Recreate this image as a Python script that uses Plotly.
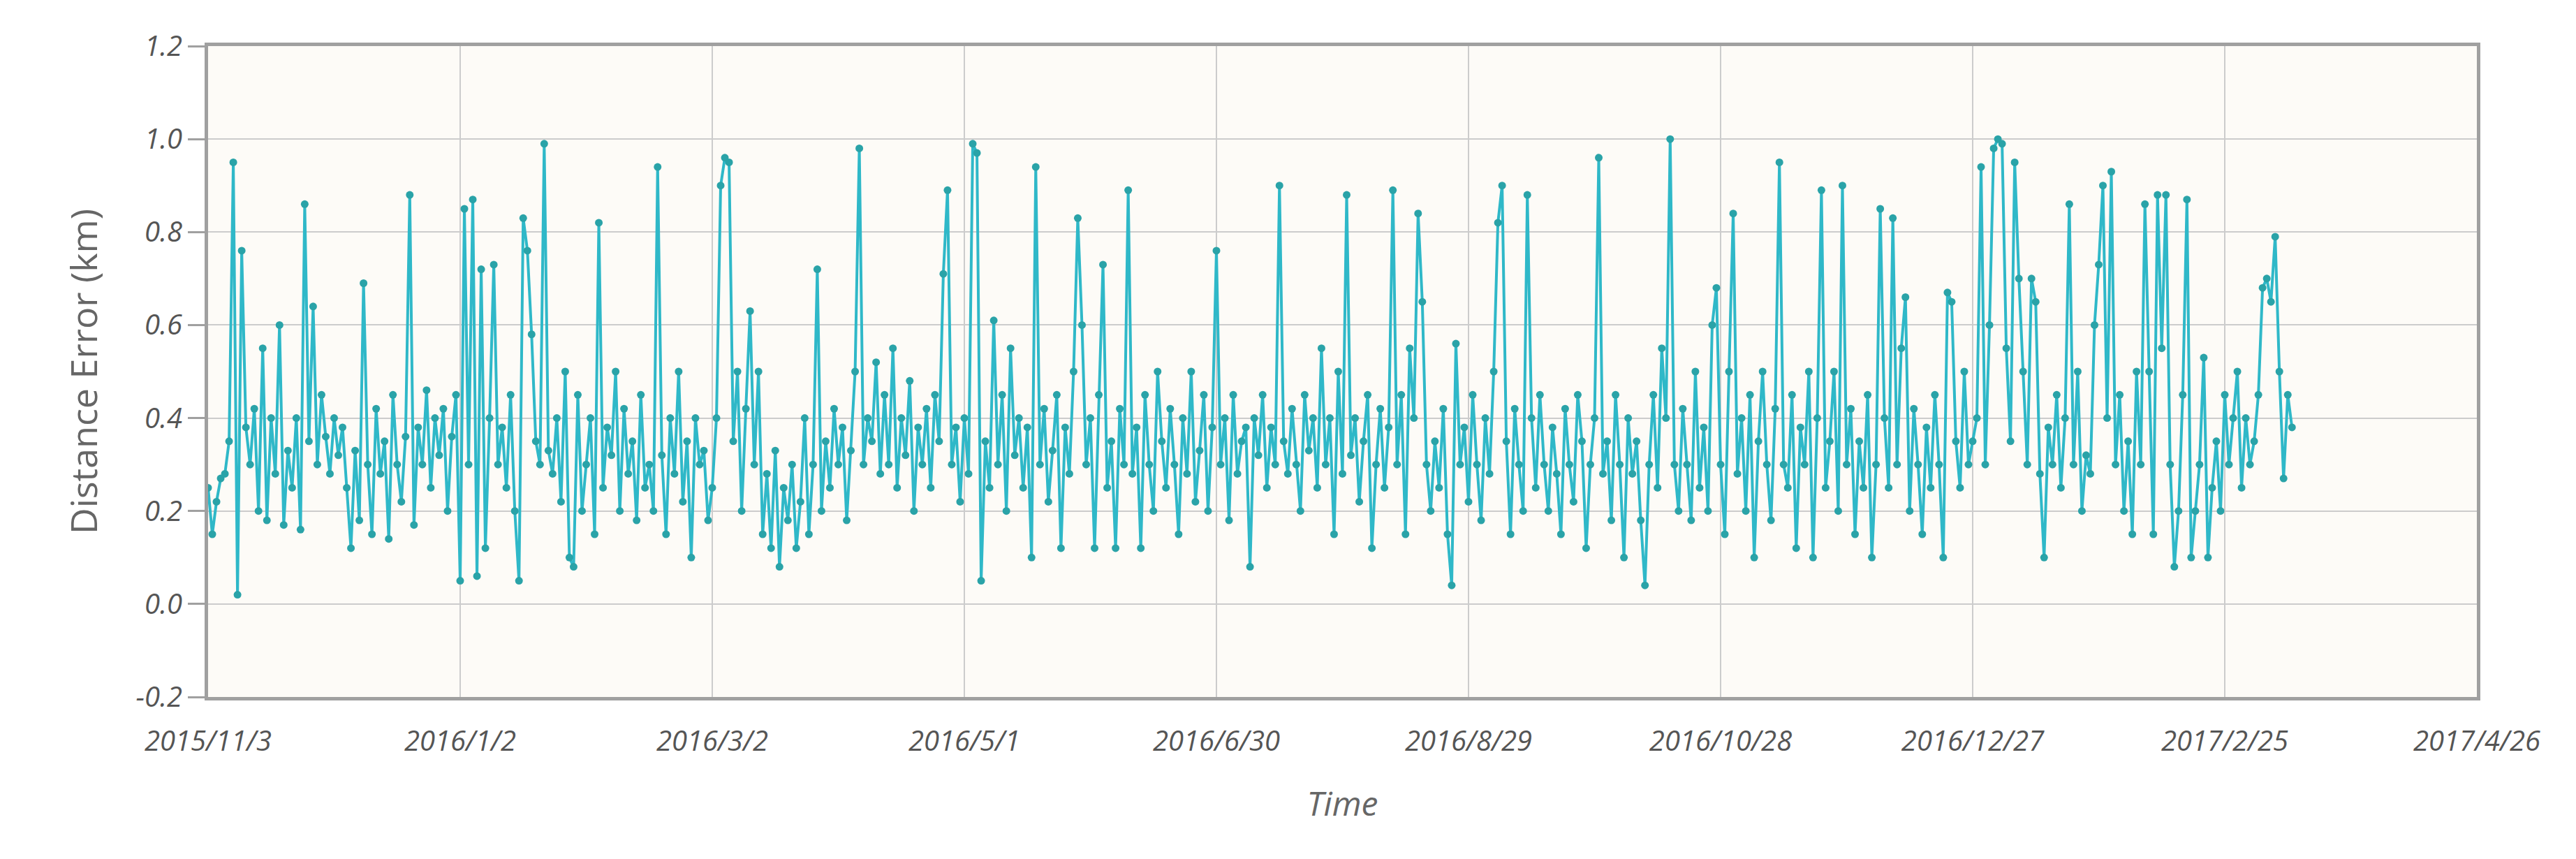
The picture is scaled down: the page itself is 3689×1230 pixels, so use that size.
import plotly.graph_objects as go
import pandas as pd

values = [
0.25,0.15,0.22,0.27,0.28,0.35,0.95,0.02,0.76,0.38,0.3,0.42,0.2,0.55,0.18,0.4,0.28,0.6,0.17,0.33,
0.25,0.4,0.16,0.86,0.35,0.64,0.3,0.45,0.36,0.28,0.4,0.32,0.38,0.25,0.12,0.33,0.18,0.69,0.3,0.15,
0.42,0.28,0.35,0.14,0.45,0.3,0.22,0.36,0.88,0.17,0.38,0.3,0.46,0.25,0.4,0.32,0.42,0.2,0.36,0.45,
0.05,0.85,0.3,0.87,0.06,0.72,0.12,0.4,0.73,0.3,0.38,0.25,0.45,0.2,0.05,0.83,0.76,0.58,0.35,0.3,
0.99,0.33,0.28,0.4,0.22,0.5,0.1,0.08,0.45,0.2,0.3,0.4,0.15,0.82,0.25,0.38,0.32,0.5,0.2,0.42,
0.28,0.35,0.18,0.45,0.25,0.3,0.2,0.94,0.32,0.15,0.4,0.28,0.5,0.22,0.35,0.1,0.4,0.3,0.33,0.18,
0.25,0.4,0.9,0.96,0.95,0.35,0.5,0.2,0.42,0.63,0.3,0.5,0.15,0.28,0.12,0.33,0.08,0.25,0.18,0.3,
0.12,0.22,0.4,0.15,0.3,0.72,0.2,0.35,0.25,0.42,0.3,0.38,0.18,0.33,0.5,0.98,0.3,0.4,0.35,0.52,
0.28,0.45,0.3,0.55,0.25,0.4,0.32,0.48,0.2,0.38,0.3,0.42,0.25,0.45,0.35,0.71,0.89,0.3,0.38,0.22,
0.4,0.28,0.99,0.97,0.05,0.35,0.25,0.61,0.3,0.45,0.2,0.55,0.32,0.4,0.25,0.38,0.1,0.94,0.3,0.42,
0.22,0.33,0.45,0.12,0.38,0.28,0.5,0.83,0.6,0.3,0.4,0.12,0.45,0.73,0.25,0.35,0.12,0.42,0.3,0.89,
0.28,0.38,0.12,0.45,0.3,0.2,0.5,0.35,0.25,0.42,0.3,0.15,0.4,0.28,0.5,0.22,0.33,0.45,0.2,0.38,
0.76,0.3,0.4,0.18,0.45,0.28,0.35,0.38,0.08,0.4,0.32,0.45,0.25,0.38,0.3,0.9,0.35,0.28,0.42,0.3,
0.2,0.45,0.33,0.4,0.25,0.55,0.3,0.4,0.15,0.5,0.28,0.88,0.32,0.4,0.22,0.35,0.45,0.12,0.3,0.42,
0.25,0.38,0.89,0.3,0.45,0.15,0.55,0.4,0.84,0.65,0.3,0.2,0.35,0.25,0.42,0.15,0.04,0.56,0.3,0.38,
0.22,0.45,0.3,0.18,0.4,0.28,0.5,0.82,0.9,0.35,0.15,0.42,0.3,0.2,0.88,0.4,0.25,0.45,0.3,0.2,
0.38,0.28,0.15,0.42,0.3,0.22,0.45,0.35,0.12,0.3,0.4,0.96,0.28,0.35,0.18,0.45,0.3,0.1,0.4,0.28,
0.35,0.18,0.04,0.3,0.45,0.25,0.55,0.4,1.0,0.3,0.2,0.42,0.3,0.18,0.5,0.25,0.38,0.2,0.6,0.68,
0.3,0.15,0.5,0.84,0.28,0.4,0.2,0.45,0.1,0.35,0.5,0.3,0.18,0.42,0.95,0.3,0.25,0.45,0.12,0.38,
0.3,0.5,0.1,0.4,0.89,0.25,0.35,0.5,0.2,0.9,0.3,0.42,0.15,0.35,0.25,0.45,0.1,0.3,0.85,0.4,
0.25,0.83,0.3,0.55,0.66,0.2,0.42,0.3,0.15,0.38,0.25,0.45,0.3,0.1,0.67,0.65,0.35,0.25,0.5,0.3,
0.35,0.4,0.94,0.3,0.6,0.98,1.0,0.99,0.55,0.35,0.95,0.7,0.5,0.3,0.7,0.65,0.28,0.1,0.38,0.3,
0.45,0.25,0.4,0.86,0.3,0.5,0.2,0.32,0.28,0.6,0.73,0.9,0.4,0.93,0.3,0.45,0.2,0.35,0.15,0.5,
0.3,0.86,0.5,0.15,0.88,0.55,0.88,0.3,0.08,0.2,0.45,0.87,0.1,0.2,0.3,0.53,0.1,0.25,0.35,0.2,
0.45,0.3,0.4,0.5,0.25,0.4,0.3,0.35,0.45,0.68,0.7,0.65,0.79,0.5,0.27,0.45,0.38,
]
start_date = "2015-11-03"
dates = pd.date_range(start_date, periods=len(values), freq="D")

tick_dates = ["2015-11-03","2016-01-02","2016-03-02","2016-05-01","2016-06-30",
              "2016-08-29","2016-10-28","2016-12-27","2017-02-25","2017-04-26"]
tick_text = ["2015/11/3","2016/1/2","2016/3/2","2016/5/1","2016/6/30",
             "2016/8/29","2016/10/28","2016/12/27","2017/2/25","2017/4/26"]
y_ticks = [-0.2,0.0,0.2,0.4,0.6,0.8,1.0,1.2]
y_text = ["-0.2","0.0","0.2","0.4","0.6","0.8","1.0","1.2"]

fig = go.Figure(go.Scatter(
    x=dates, y=values, mode="lines+markers",
    line=dict(color="#2fb8c8", width=4),
    marker=dict(color="#2aa3a8", size=11),
))
tickfont = dict(family="Open Sans", size=40, color="#555555", style="italic")
fig.update_layout(
    width=3689, height=1230,
    margin=dict(l=290, r=150, t=58, b=240),
    paper_bgcolor="white", plot_bgcolor="#fdfbf7",
    showlegend=False,
    font=dict(family="Open Sans"),
)
fig.update_xaxes(
    range=[tick_dates[0], tick_dates[-1]], tickvals=tick_dates, ticktext=tick_text,
    tickfont=tickfont, showgrid=True, gridcolor="#cccccc", gridwidth=2,
    showline=True, linecolor="#a0a0a0", linewidth=5, mirror=True,
    ticks="outside", ticklen=24, tickcolor="rgba(0,0,0,0)", tickwidth=1,
    title=dict(text="Time", font=dict(family="Open Sans", size=48, color="#666666", style="italic"), standoff=50),
)
fig.update_yaxes(
    range=[-0.2, 1.2], tickvals=y_ticks, ticktext=y_text,
    tickfont=tickfont, showgrid=True, gridcolor="#cccccc", gridwidth=2, zeroline=False,
    showline=True, linecolor="#a0a0a0", linewidth=5, mirror=True,
    ticks="outside", ticklen=24, tickcolor="#a0a0a0", tickwidth=3,
    title=dict(text="Distance Error (km)", font=dict(family="Open Sans", size=52, color="#666666"), standoff=40),
)
fig.write_html("out.html")
